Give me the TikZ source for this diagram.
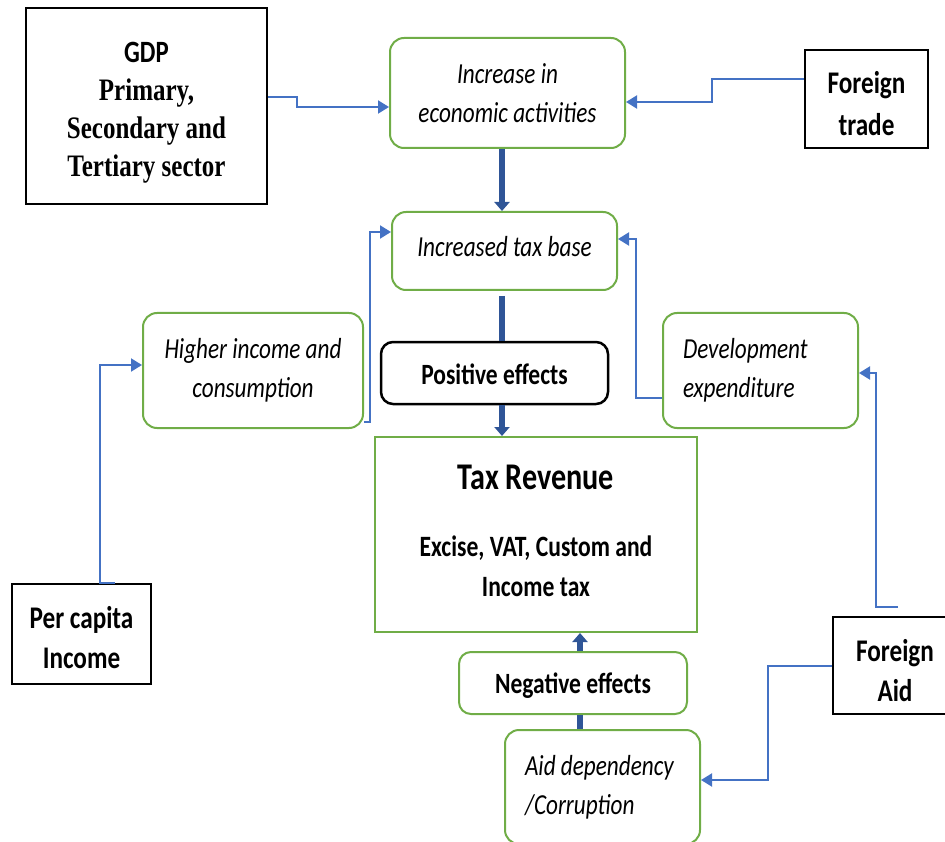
\documentclass[tikz,border=0pt]{standalone}
\usepackage{fontspec}
\setmainfont{Carlito}[FakeStretch=0.8]
\newfontfamily\tnr{Liberation Serif}[FakeStretch=0.8]
\usetikzlibrary{arrows.meta}
\definecolor{gr}{HTML}{70AD47}
\definecolor{bl}{HTML}{4472C4}
\definecolor{dbl}{HTML}{2F5597}
\begin{document}
\begin{tikzpicture}[x=1pt,y=-1pt,
  blackbox/.style={draw=black, line width=2.5pt, inner sep=0pt},
  blacktext/.style={inner sep=0pt, align=center, font=\fontsize{31.5}{40}\selectfont\bfseries},
  greenbox/.style={draw=gr, line width=2pt, rounded corners=14pt, inner sep=0pt, align=center,
    font=\fontsize{29}{39}\selectfont\itshape},
  greenleft/.style={greenbox, align=flush left, inner xsep=20pt, text width=155pt},
  effbox/.style={line width=2.5pt, rounded corners=12pt, inner sep=0pt},
  efftext/.style={inner sep=0pt, align=center, font=\fontsize{29.4}{40}\selectfont\bfseries},
  conn/.style={draw=bl, line width=2pt, -{Triangle[length=11pt,width=13pt]}},
  thk/.style={draw=dbl, line width=5.5pt},
  thkarrow/.style={thk, -{Triangle[length=9pt,width=15pt]}}
]
\useasboundingbox (0,0) rectangle (945,842);
\clip (0,0) rectangle (945,842);

% boxes
\node[blackbox, minimum width=241pt, minimum height=196pt] (gdp) at (146.5,106) {};
\node[blacktext, font=\fontsize{31.25}{38}\selectfont\bfseries] (gdp-t) at ([yshift=-7pt]gdp.center)
  {{\fontsize{31}{38}\selectfont GDP}\\{\tnr Primary,}\\{\tnr Secondary and}\\{\tnr Tertiary sector}};
\node[greenbox, minimum width=235pt, minimum height=110pt] (inc) at (507.5,93)
  {Increase in\\economic activities};
\node[blackbox, minimum width=123pt, minimum height=98pt] (ft) at (866.5,99) {};
\node[blacktext, font=\fontsize{31.5}{42}\selectfont\bfseries] (ft-t) at ([yshift=-5pt]ft.center)
  {Foreign\\trade};
\node[greenbox, minimum width=225pt, minimum height=78pt] (base) at (504.5,251) {};
\node[greenbox, draw=none] (base-t) at ([yshift=4pt]base.center) {Increased tax base};
\node[effbox, draw=black, minimum width=227pt, minimum height=62pt] (pos) at (494.5,373) {};
\node[efftext] (pos-t) at ([yshift=-1pt]pos.center) {Positive effects};
\node[greenbox, minimum width=220pt, minimum height=115pt] (hic) at (253,370.5)
  {Higher income and\\consumption};
\node[greenleft, minimum width=195pt, minimum height=115pt] (dev) at (760.5,370.5)
  {Development\\expenditure};
\node[draw=gr, line width=2pt, inner sep=0pt, minimum width=322pt,
  minimum height=195pt] (tax) at (536,534.5) {};
\node[efftext, font=\fontsize{29.5}{40}\selectfont\bfseries] (tax-t) at ([yshift=4pt]tax.center)
  {{\fontsize{37.7}{40}\selectfont Tax Revenue}\\[27pt]Excise, VAT, Custom and\\Income tax};
\node[blackbox, minimum width=139pt, minimum height=100pt] (pci) at (81.5,634) {};
\node[blacktext] (pci-t) at ([yshift=-4pt]pci.center) {Per capita\\Income};
\node[blackbox, minimum width=120pt, minimum height=97pt] (fa) at (893,665.5) {};
\node[blacktext] (fa-t) at ([yshift=-5pt,xshift=2pt]fa.center) {Foreign\\Aid};
\node[effbox, draw=gr, line width=2pt, minimum width=228pt, minimum height=62pt] (neg) at (573,683) {};
\node[efftext] (neg-t) at ([yshift=-3pt]neg.center) {Negative effects};
\node[greenleft, minimum width=195pt, minimum height=114pt] (aid) at (602.5,787)
  {Aid dependency\\/Corruption};

% thin blue connectors
\draw[conn] ([yshift=9pt]gdp.east) -- ++(29,0) |- ([yshift=-14pt]inc.west);
\draw[conn] ([yshift=20pt]ft.west) -- ++(-92,0) |- ([yshift=-9pt]inc.east);
\draw[conn] ([xshift=33.5pt]pci.north) -- ++(-15,0) |- ([yshift=5.5pt]hic.west);
\draw[conn] ([yshift=-51.5pt]hic.east) -- ++(6,0) |- ([yshift=19pt]base.west);
\draw[conn] ([yshift=-27.5pt]dev.west) -- ++(-26,0) |- ([yshift=12pt]base.east);
\draw[conn] ([xshift=5pt,yshift=8.5pt]fa.north) -- ++(-22,0) |- ([yshift=-2.5pt]dev.east);
\draw[conn] (fa.west) -- ++(-64,0) |- ([yshift=7pt]aid.east);

% thick dark blue connectors
\draw[thkarrow] ([xshift=-5.5pt]inc.south) -- ([xshift=-2.5pt]base.north);
\draw[thk] ([xshift=-2.5pt,yshift=-5pt]base.south) -- ([xshift=7.5pt]pos.north);
\draw[thkarrow] ([xshift=7.5pt]pos.south) -- ([xshift=-34pt]tax.north);
\draw[thk] ([xshift=-22.5pt]aid.north) -- ([xshift=7pt]neg.south);
\draw[thkarrow] ([xshift=7pt]neg.north) -- ([xshift=44pt]tax.south);
\end{tikzpicture}
\end{document}
